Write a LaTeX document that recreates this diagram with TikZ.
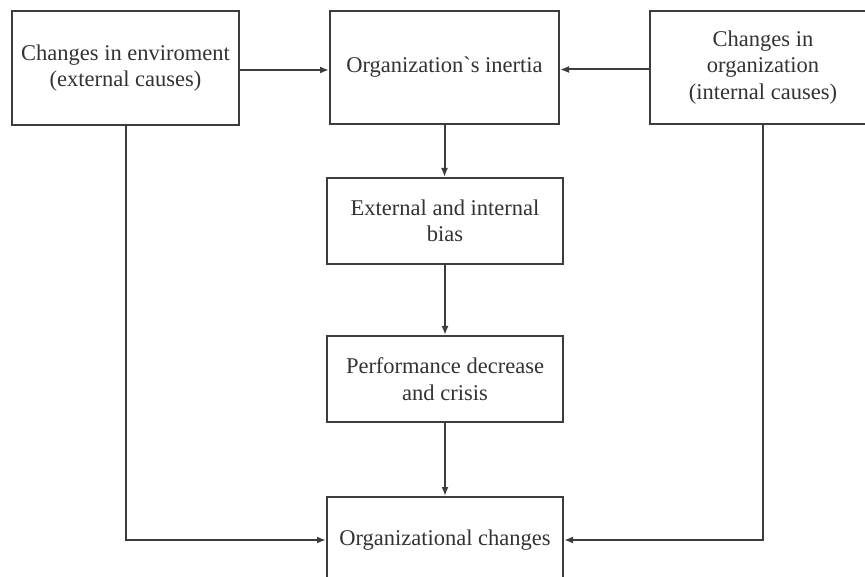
\documentclass[tikz,border=0pt]{standalone}
\usepackage{fontspec}
\setmainfont{Liberation Serif}
\usetikzlibrary{arrows.meta}
\definecolor{linec}{HTML}{3C3C3C}
\definecolor{textc}{HTML}{333333}
\tikzset{
  box/.style={draw=linec, line width=2pt, align=center, text=textc,
    font=\fontsize{22.5}{26.5}\selectfont, inner sep=0pt, fill=white},
  arr/.style={draw=linec, line width=2pt, -{Latex[length=9pt,width=7pt]}},
}
\begin{document}
\begin{tikzpicture}[x=1pt,y=-1pt]
\useasboundingbox (0,0) rectangle (865,577);
\clip (0,0) rectangle (865,577);
\fill[white] (0,0) rectangle (865,577);
\node[box, minimum width=227pt, minimum height=114pt] (A) at (125.5,68) {Changes in enviroment\\(external causes)};
\node[box, minimum width=229pt, minimum height=113pt] (B) at (444.5,67.5) {Organization\textasciigrave s inertia};
\node[box, minimum width=226pt, minimum height=113pt] (C) at (763,67.5) {Changes in\\organization\\(internal causes)};
\node[box, minimum width=236pt, minimum height=86pt] (D) at (445,221) {External and internal\\bias};
\node[box, minimum width=236pt, minimum height=86pt] (E) at (445,379) {Performance decrease\\and crisis};
\node[box, minimum width=236pt, minimum height=86pt] (F) at (445,540) {Organizational changes};
\draw[arr] ([yshift=-2pt]A.east) -- ([yshift=-2pt]A.east -| B.west);
\draw[arr] ([yshift=-2pt]C.west) -- ([yshift=-2pt]C.west -| B.east);
\draw[arr] (B.south) -- (B.south |- D.north);
\draw[arr] (D.south) -- (E.north);
\draw[arr] (E.south) -- (F.north);
\draw[arr] (A.south) |- (F.west);
\draw[arr] (C.south) |- (F.east);
\end{tikzpicture}
\end{document}
